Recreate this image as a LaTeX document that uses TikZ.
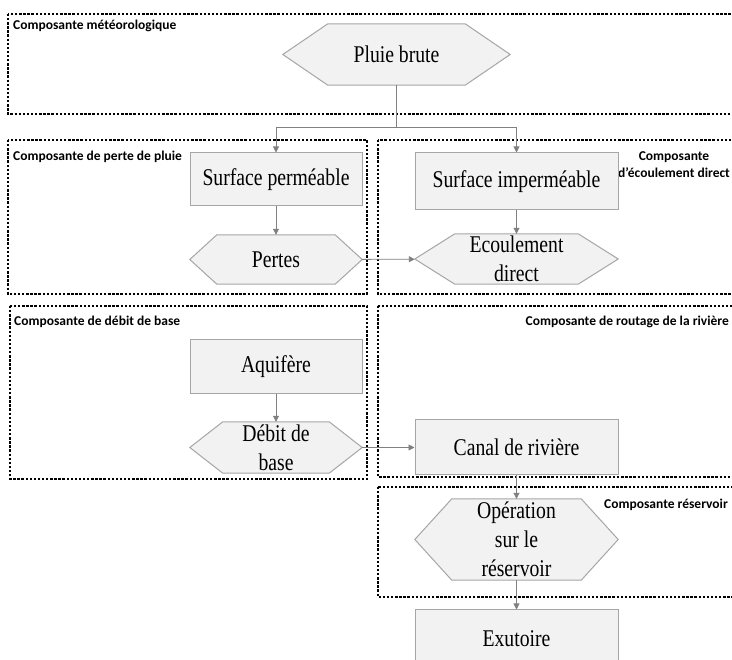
\documentclass[tikz,border=0pt]{standalone}
\usepackage{fontspec}
\setmainfont{Liberation Serif}[FakeStretch=0.82]
\newfontfamily\labelfont{Carlito}
\usetikzlibrary{arrows.meta,backgrounds}
\definecolor{boxfill}{HTML}{F2F2F2}
\definecolor{boxline}{HTML}{A6A6A6}
\definecolor{linkgray}{HTML}{808080}
\tikzset{
  compframe/.style={line width=2.6pt, dash pattern=on 2.4pt off 1.7pt},
  compo/.style={font=\labelfont\bfseries\fontsize{13.5}{17}\selectfont, inner sep=0pt, align=center},
  process/.style={draw=boxline, fill=boxfill, line width=1pt, inner sep=0pt,
    font=\fontsize{24}{29}\selectfont, align=center},
  hexa/.style={inner sep=0pt, font=\fontsize{24}{29}\selectfont, align=center},
  hexline/.style={draw=boxline, fill=boxfill, line width=1pt},
  link/.style={draw=linkgray, line width=0.9pt, -{Triangle[width=6pt,length=6pt]}},
}
\newcommand{\hexframe}[2]{%
  \draw[hexline] (#1.west) -- ([xshift=#2pt]#1.north west) -- ([xshift=-#2pt]#1.north east)
    -- (#1.east) -- ([xshift=-#2pt]#1.south east) -- ([xshift=#2pt]#1.south west) -- cycle;}
\begin{document}
\begin{tikzpicture}[x=1pt,y=-1pt]
  \useasboundingbox (0,0) rectangle (732,660);

  \draw[compframe] (8,14) rectangle (745,114);
  \draw[compframe] (8,140) rectangle (367,294);
  \draw[compframe] (378,140) rectangle (745,294);
  \draw[compframe] (10,306) rectangle (367,479);
  \draw[compframe] (378,306) rectangle (745,477);
  \draw[compframe] (378,487) rectangle (745,597);

  \node[compo, anchor=west] (lmeteo) at (13,26) {Composante météorologique};
  \node[compo, anchor=west] (lperte) at (13,157) {Composante de perte de pluie};
  \node[compo] (lecoul) at (674,165) {Composante\\d’écoulement direct};
  \node[compo, anchor=west] (ldebit) at (14,322) {Composante de débit de base};
  \node[compo, anchor=east] (lroutage) at (729,322) {Composante de routage de la rivière};
  \node[compo, anchor=east] (lreserv) at (728,505) {Composante réservoir};

  \node[hexa, minimum width=227pt, minimum height=61pt] (pluie) at (396.5,54.5) {Pluie brute};
  \node[process, minimum width=172pt, minimum height=53pt] (surfperm) at (276,179.5) {Surface perméable};
  \node[hexa, minimum width=172pt, minimum height=49pt] (pertes) at (276,259.5) {Pertes};
  \node[process, minimum width=203pt, minimum height=57pt] (surfimp) at (516.5,181.5) {Surface imperméable};
  \node[hexa, minimum width=203pt, minimum height=50pt] (ecoul) at (516.5,259) {Ecoulement\\direct};
  \node[process, minimum width=172pt, minimum height=54pt] (aquifere) at (276,367) {Aquifère};
  \node[hexa, minimum width=172pt, minimum height=51pt] (debit) at (276,447.5) {Débit de\\base};
  \node[process, minimum width=203pt, minimum height=55pt] (canal) at (516.5,447.5) {Canal de rivière};
  \node[hexa, minimum width=203pt, minimum height=81pt] (operation) at (516.5,539.5) {Opération\\sur le\\réservoir};
  \node[process, minimum width=203pt, minimum height=58pt] (exutoire) at (516.5,639) {Exutoire};

  \begin{scope}[on background layer]
    \fill[white] (0,0) rectangle (732,660);
    \hexframe{pluie}{45}
    \hexframe{pertes}{27}
    \hexframe{ecoul}{40}
    \hexframe{debit}{33}
    \hexframe{operation}{37}
  \end{scope}

  \coordinate (split) at (396.5,127);
  \draw[draw=linkgray, line width=0.9pt] (pluie) -- (split);
  \begin{scope}[link]
    \draw (split) -| (surfperm);
    \draw (split) -| (surfimp);
    \draw (surfperm) -- (pertes);
    \draw (surfimp) -- (ecoul);
    \draw (pertes) -- (ecoul);
    \draw (aquifere) -- (debit);
    \draw (debit) -- (canal);
    \draw (canal) -- (operation);
    \draw (operation) -- (exutoire);
  \end{scope}
\end{tikzpicture}
\end{document}
